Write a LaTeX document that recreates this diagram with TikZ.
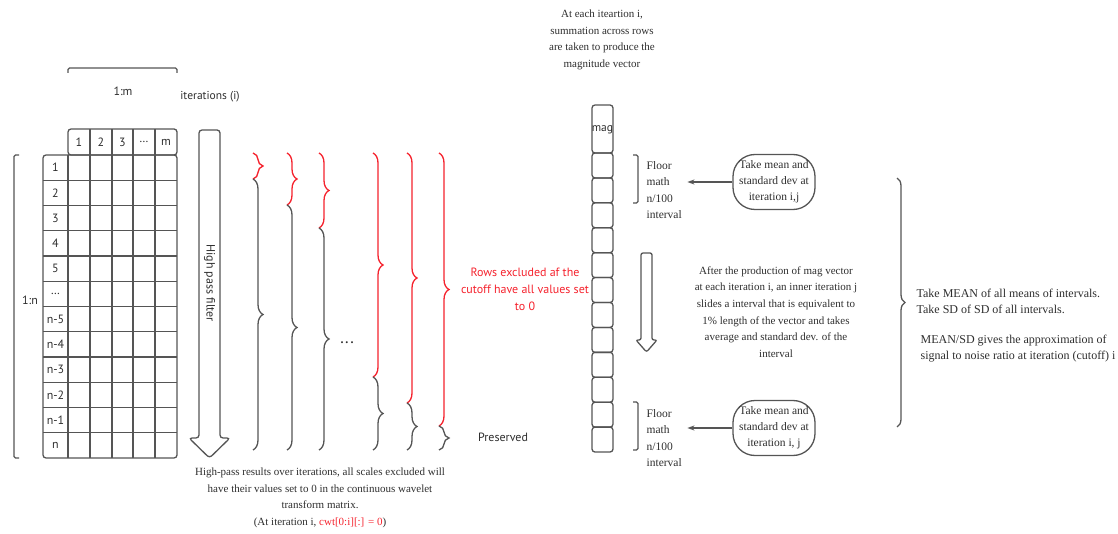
\documentclass[tikz,border=0pt]{standalone}
\usepackage{fontspec}
\setmainfont{Liberation Serif}
\newfontfamily\sansf{PT Sans}
\usetikzlibrary{decorations.pathreplacing,shapes.misc,arrows.meta,calc}
\definecolor{lg}{HTML}{555555}
\definecolor{tg}{HTML}{2E2E2E}
\definecolor{rd}{HTML}{F5222D}
\newcommand{\mydots}{\ldots}
\begin{document}
\begin{tikzpicture}[x=1pt,y=-1pt,line width=1.3pt,
  st/.style={font=\sansf\fontsize{12}{17}\selectfont,text=tg,align=center,inner sep=0pt},
  ct/.style={font=\sansf\fontsize{12}{12}\selectfont,text=tg,inner sep=0pt},
  rt/.style={font=\fontsize{11}{16.6}\selectfont,text=tg,align=center,inner sep=0pt},
  rtb/.style={font=\fontsize{11.5}{16.6}\selectfont,text=tg,align=left,inner sep=0pt,anchor=west},
  rtc/.style={font=\fontsize{12}{16}\selectfont,text=tg,align=left,inner sep=0pt,anchor=west},
  brc/.style={decorate,decoration={brace,amplitude=10pt}},
  bigbrc/.style={decorate,decoration={brace,amplitude=8pt}},
  bkt/.style={draw=lg,rounded corners=1.5pt},
  meanbox/.style={draw=lg,rounded corners=22pt,minimum width=82pt,minimum height=55pt,
    inner sep=1pt,align=center,font=\fontsize{11.5}{16}\selectfont,text=tg},
  arr/.style={draw=lg,-{Stealth[length=7pt,width=5pt]}}
]
\useasboundingbox (0,0) rectangle (1118,534);

% ---------- matrix ----------
\draw[lg,rounded corners=3pt] (43,155) rectangle (177,458);
\draw[lg,rounded corners=3pt] (68,129) rectangle (177,155);
\foreach \x in {68,90,112,133,155} \draw[lg] (\x,155) -- (\x,458);
\foreach \x in {90,112,133,155} \draw[lg] (\x,129) -- (\x,155);
\foreach \k in {1,...,11} \draw[lg] (43,155+\k*25.25) -- (177,155+\k*25.25);
\foreach \x/\t [count=\i] in {79/1,101/2,122.5/3,144/\mydots,166/m}
  \node[ct] (h\i) at (\x,142) {\t};
\foreach \t [count=\k] in {1,2,3,4,5,\mydots,n-5,n-4,n-3,n-2,n-1,n}
  \node[ct] (r\k) at (55.5,155+\k*25.25-12.6) {\t};

% brackets 1:m and 1:n
\draw[bkt] (68,73) -- (68,68) -- (177,68) -- (177,73);
\node[st] (lm) at (123,91) {1:m};
\draw[bkt] (19,155) -- (14,155) -- (14,458) -- (19,458);
\node[st] (ln) at (30,300) {1:n};
\node[st,font=\sansf\fontsize{11.5}{17}\selectfont] (iter) at (210,97) {iterations (i)};

% high pass arrow
\draw[lg,rounded corners=3pt] (199,438) -- (199,130) -- (220,130) -- (220,438)
  -- (230,438) -- (209.5,458) -- (189,438) -- cycle;
\node[st,rotate=-90] (hpf) at (209.5,283) {High pass filter};

% braces
\foreach \x/\s in {253/179,287/205,319/228,373/377,407/403,439/426}{
  \draw[brc,rd] (\x,153) -- (\x,\s);
  \draw[brc,lg] (\x,\s) -- (\x,450);
}
\node[font=\bfseries\fontsize{12}{12}\selectfont,text=tg,inner sep=0pt] (dots) at (347,343) {.\,.\,.};

\node[st,text=rd] (excl) at (525,289) {Rows excluded af the\\cutoff have all values set\\to 0};
\node[st] (pres) at (503,437) {Preserved};

% bottom text
\node[rt] (bottom) at (320,498) {High-pass results over iterations, all scales excluded will\\have their values set to 0 in the continuous wavelet\\transform matrix.\\(At iteration i, \textcolor{rd}{cwt[0:i][:] = 0})};

% top text
\node[rt] (top) at (602,40) {At each iteartion i,\\summation across rows\\are taken to produce the\\magnitude vector};

% magnitude vector
\draw[lg,rounded corners=3pt] (592,105) rectangle (613,153);
\node[ct,font=\sansf\fontsize{11.5}{12}\selectfont] (mag) at (602.5,130) {mag};
\foreach \k in {0,...,11}
  \draw[lg,rounded corners=3pt] (592,153+\k*24.92) rectangle (613,153+\k*24.92+24.92);

% floor brackets
\draw[bkt] (633,155) -- (638,155) -- (638,203) -- (633,203);
\node[rtb] (fA) at (646,190) {Floor\\math\\n/100\\interval};
\draw[bkt] (633,402) -- (638,402) -- (638,450) -- (633,450);
\node[rtb] (fB) at (646,438) {Floor\\math\\n/100\\interval};

% mean boxes
\node[meanbox] (mA) at (774,182) {Take mean and\\standard dev at\\iteration i,j};
\node[meanbox] (mB) at (774,428) {Take mean and\\standard dev at\\iteration i, j};
\draw[arr,shorten >=5pt] (mA.west) -- (mA.west -| fA.east);
\draw[arr,shorten >=5pt] (mB.west) -- (mB.west -| fB.east);

% inner hollow arrow
\draw[lg,rounded corners=2pt] (641,340) -- (641,253) -- (652,253) -- (652,340)
  -- (657,340) -- (646.5,352) -- (636,340) -- cycle;

\node[rt] (para) at (776,312) {After the production of mag vector\\at each iteration i, an inner iteration j\\slides a interval that is equivalent to\\1\% length of the vector and takes\\average and standard dev. of the\\interval};

% big brace and results
\draw[bigbrc,lg] (897,178) -- (897,427);
\node[rtc] (mean) at (916,301) {Take MEAN of all means of intervals.\\Take SD of SD of all intervals.};
\node[rtc] (snr) at (920,349) {MEAN/SD gives the approximation of\\signal to noise ratio at iteration (cutoff) i};
\end{tikzpicture}
\end{document}
